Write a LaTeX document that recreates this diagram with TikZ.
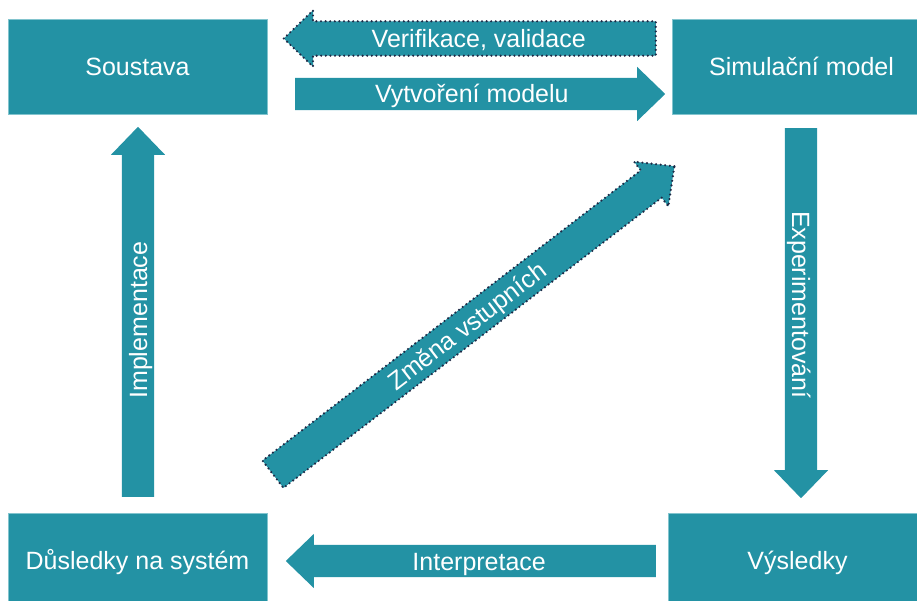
\documentclass[tikz,border=0pt]{standalone}
\usepackage{fontspec}
\setmainfont{Liberation Sans}
\usetikzlibrary{shapes.arrows}

\definecolor{tealbox}{RGB}{35,146,164}
\definecolor{tealedge}{RGB}{130,196,206}
\definecolor{dotnavy}{RGB}{30,42,70}

\tikzset{
  box/.style={fill=tealbox, draw=tealedge, line width=0.8pt,
    minimum width=259pt, minimum height=95pt, inner sep=0pt,
    text=white, font=\fontsize{25}{30}\selectfont,
    text height=18pt, text depth=0pt},
  blk/.style={single arrow, fill=tealbox, anchor=tail,
    text=white, font=\fontsize{25}{30}\selectfont,
    text height=18pt, text depth=0pt, inner ysep=7pt, inner xsep=0pt,
    single arrow head extend=11pt, single arrow tip angle=88},
  dotrim/.style={draw=dotnavy, line width=2.4pt, line cap=round,
    dash pattern=on 0pt off 4.6pt},
}

\begin{document}
\begin{tikzpicture}[x=1pt,y=1pt]

\useasboundingbox (0,0) rectangle (917,600) ;
\clip (0,0) rectangle (917,600) ;

% boxes
\node[box] (box_soustava) at (137.5,533.5) {Soustava} ;
\node[box] (box_model) at (801.5,533.5) {Simulační model} ;
\node[box] (box_dusledky) at (137.5,39.5) {Důsledky na systém} ;
\node[box] (box_vysledky) at (797.5,39.5) {Výsledky} ;

% arrow tails
\coordinate (pt_verif) at (657,561.5) ;
\coordinate (pt_vytvor) at (295,506) ;
\coordinate (pt_impl) at (138,103) ;
\coordinate (pt_exper) at (801,472) ;
\coordinate (pt_interp) at (656,39) ;
\coordinate (pt_zmena) at (272,125) ;

% block arrows
\node[blk, dotrim, shape border rotate=180, minimum height=372pt]
  (arr_verif) at (pt_verif) {Verifikace, validace} ;
\node[blk, minimum height=370pt]
  (arr_vytvor) at (pt_vytvor) {Vytvoření modelu} ;
\node[blk, rotate=90, minimum height=370pt]
  (arr_impl) at (pt_impl) {Implementace} ;
\node[blk, rotate=-90, minimum height=370pt]
  (arr_exper) at (pt_exper) {Experimentování} ;
\node[blk, shape border rotate=180, minimum height=370pt]
  (arr_interp) at (pt_interp) {Interpretace} ;
\node[blk, dotrim, rotate=37.5, minimum height=506pt]
  (arr_zmena) at (pt_zmena) {Změna vstupních} ;

\end{tikzpicture}
\end{document}
